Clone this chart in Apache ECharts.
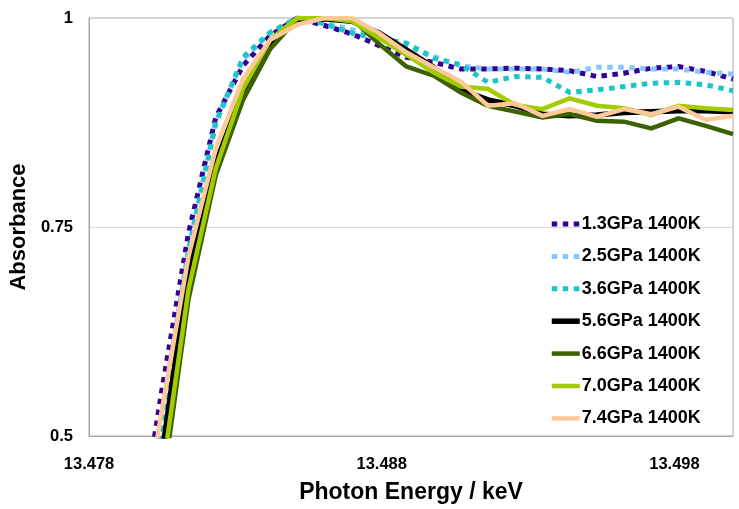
<!DOCTYPE html>
<html>
<head>
<meta charset="utf-8">
<script src="https://cdn.jsdelivr.net/npm/echarts@6/dist/echarts.min.js"></script>
<style>html,body{margin:0;padding:0;background:#fff;}#c{width:739px;height:509px;}</style>
</head>
<body>
<div id="c"></div>
<script>
var energy = [13.47954,13.48047,13.48140,13.48233,13.48326,13.48419,13.48512,13.48605,13.48698,13.48791,13.48884,13.48977,13.49070,13.49163,13.49256,13.49349,13.49442,13.49535,13.49628,13.49721,13.49814,13.49907,13.50000];
var s13 = [0.343,0.551,0.743,0.881,0.943,0.979,1.000,0.991,0.981,0.967,0.953,0.947,0.939,0.939,0.940,0.939,0.937,0.930,0.934,0.940,0.942,0.936,0.927];
var s25 = [0.310,0.520,0.725,0.876,0.950,0.982,1.000,0.994,0.986,0.977,0.967,0.954,0.943,0.939,0.939,0.939,0.935,0.941,0.941,0.939,0.939,0.935,0.933];
var s36 = [0.298,0.506,0.720,0.874,0.953,0.983,1.000,0.993,0.982,0.975,0.970,0.952,0.944,0.923,0.930,0.929,0.911,0.914,0.918,0.922,0.923,0.920,0.913];
var s56 = [0.247,0.473,0.699,0.826,0.913,0.969,0.998,0.999,0.996,0.982,0.962,0.941,0.914,0.902,0.895,0.885,0.883,0.884,0.887,0.888,0.889,0.889,0.888];
var s66 = [0.193,0.428,0.664,0.812,0.902,0.963,0.999,0.999,0.999,0.969,0.942,0.931,0.911,0.895,0.888,0.881,0.885,0.877,0.876,0.868,0.880,0.871,0.861];
var s70 = [0.218,0.447,0.676,0.820,0.915,0.974,1.000,1.000,0.996,0.976,0.956,0.935,0.918,0.915,0.896,0.891,0.904,0.895,0.892,0.884,0.895,0.892,0.890];
var s74 = [0.327,0.527,0.715,0.844,0.927,0.974,0.992,1.000,1.000,0.982,0.959,0.941,0.924,0.895,0.898,0.883,0.891,0.882,0.891,0.885,0.894,0.878,0.883];
var names = ['1.3GPa 1400K','2.5GPa 1400K','3.6GPa 1400K','5.6GPa 1400K','6.6GPa 1400K','7.0GPa 1400K','7.4GPa 1400K'];
var xTicks = [13.478, 13.488, 13.498];
var yTicks = [0.5, 0.75, 1];

function pairs(v){ return energy.map(function(e,i){ return [e, v[i]]; }); }
var styles = [
  {color:'#330099', width:5, type:[5.5,5.5]},
  {color:'#85C8FF', width:5, type:[5.5,5.5]},
  {color:'#1CC6C6', width:5, type:[5.5,5.5]},
  {color:'#000000', width:5.5, type:'solid'},
  {color:'#3B6100', width:4.5, type:'solid'},
  {color:'#A3CC00', width:4.5, type:'solid'},
  {color:'#FFC899', width:4.5, type:'solid'}
];
var vals = [s13,s25,s36,s56,s66,s70,s74];
var series = vals.map(function(v,i){
  return {
    name: names[i], type:'line', data: pairs(v), symbol:'none', smooth:false,
    lineStyle:{color:styles[i].color, width:styles[i].width, type:styles[i].type, cap:'butt', join:'miter'},
    itemStyle:{color:styles[i].color},
    emphasis:{disabled:true}, animation:false, clip:true
  };
});

var chart = echarts.init(document.getElementById('c'));
chart.setOption({
  animation:false,
  grid:{left:88, right:6, top:18, bottom:68, show:true, borderColor:'#A6A6A6', borderWidth:1, containLabel:false},
  legend:{
    orient:'vertical', left:544, top:210, itemWidth:28, itemHeight:14, itemGap:14.4,
    lineStyle:{width:'inherit'},
    itemStyle:{opacity:0},
    textStyle:{fontFamily:'Liberation Sans', fontWeight:'bold', fontSize:18, color:'#000', lineHeight:18, padding:[0,0,0,-3]},
    data: names
  },
  xAxis:{
    type:'value', min:13.478, max:13.500,
    axisLine:{show:true, lineStyle:{color:'#A6A6A6'}},
    axisTick:{show:false},
    splitLine:{show:false},
    axisLabel:{customValues:xTicks, formatter:function(v){return v.toFixed(3);}, fontFamily:'Liberation Sans', fontWeight:'bold', fontSize:16.5, color:'#000', margin:20, showMinLabel:true, showMaxLabel:true},
    name:'Photon Energy / keV', nameLocation:'middle', nameGap:45,
    nameTextStyle:{fontFamily:'Liberation Sans', fontWeight:'bold', fontSize:23, color:'#000'}
  },
  yAxis:{
    type:'value', min:0.5, max:1, interval:0.25,
    axisLine:{show:true, lineStyle:{color:'#A6A6A6'}},
    axisTick:{show:false},
    splitLine:{show:true, lineStyle:{color:'#D9D9D9', width:1}},
    axisLabel:{customValues:yTicks, formatter:function(v){return String(v);}, fontFamily:'Liberation Sans', fontWeight:'bold', fontSize:16.5, color:'#000', margin:16},
    name:'Absorbance', nameLocation:'middle', nameGap:50,
    nameTextStyle:{fontFamily:'Liberation Sans', fontWeight:'bold', fontSize:22, color:'#000'}
  },
  series: series
});
</script>
</body>
</html>
